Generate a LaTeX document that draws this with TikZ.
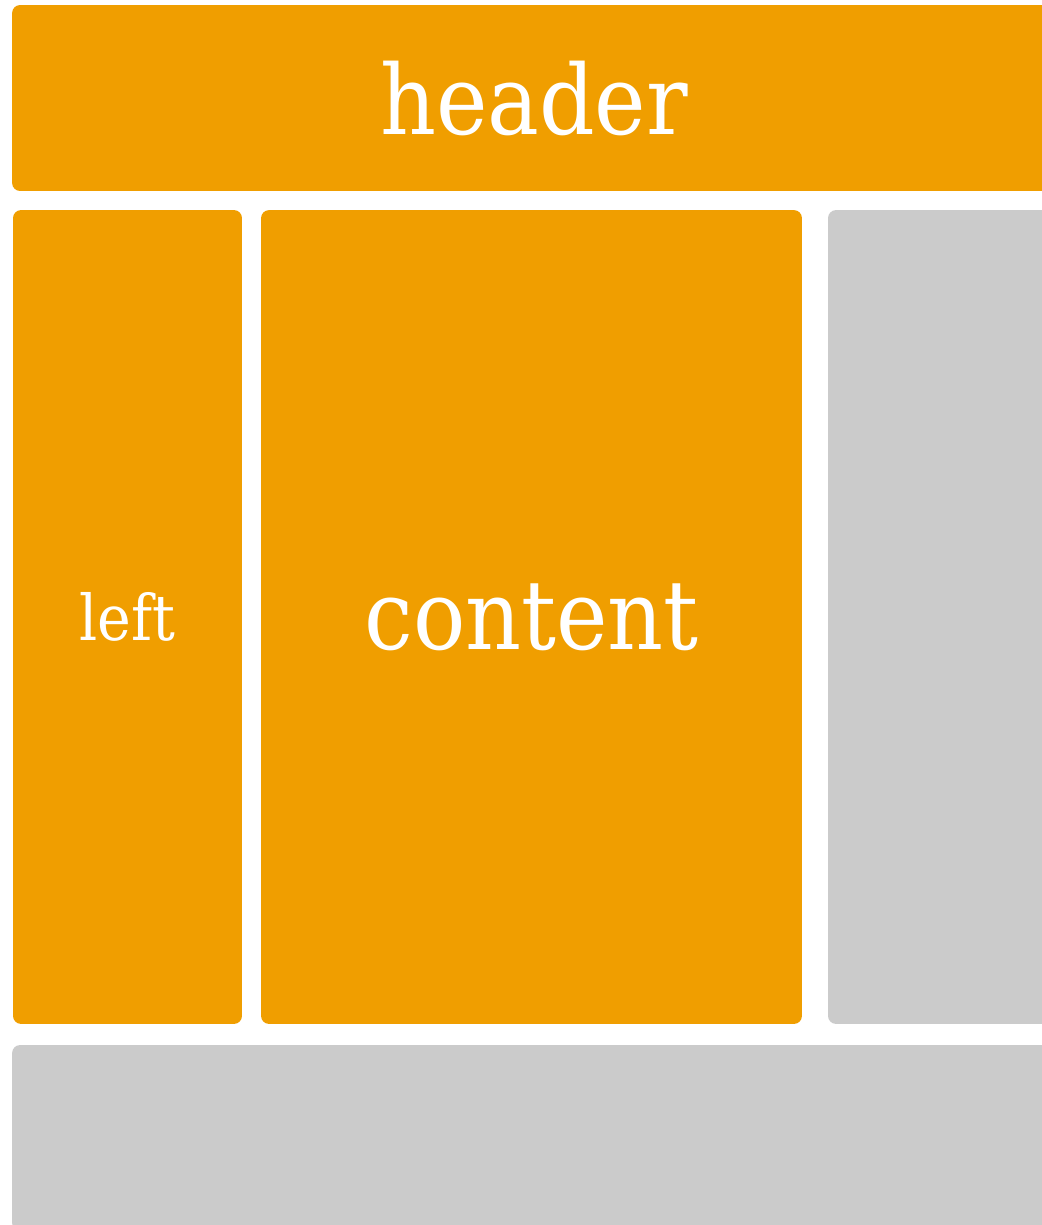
\documentclass[tikz,border=0pt]{standalone}
\usepackage{fontspec}
\setmainfont{DejaVu Serif Condensed}
\usetikzlibrary{positioning}
\definecolor{lyorange}{HTML}{F09E00}
\definecolor{lygray}{HTML}{CBCBCB}
\tikzset{
  lybox/.style={
    rounded corners=0.16cm, inner sep=0pt, text=white, draw=none},
  lyfilled/.style={lybox, fill=lyorange},
  lyempty/.style={lybox, fill=lygray},
  lybig/.style={font=\fontsize{55}{60}\selectfont},
  lysmall/.style={font=\fontsize{36}{40}\selectfont},
}
\begin{document}
\begin{tikzpicture}[x=0.02cm, y=-0.02cm]

% Page frame.
\useasboundingbox (0, 0) rectangle (1042, 1225);
\clip (0, 0) rectangle (1042, 1225);

% Header.
\node[lyfilled, lybig, minimum width=20.88cm, minimum height=3.72cm]
  (header) at (534, 98) {header};

% Middle row.
\node[lyfilled, lysmall, minimum width=4.58cm, minimum height=16.28cm]
  (left) at (127.5, 617) {left};
\node[lyfilled, lybig, minimum width=10.82cm, minimum height=16.28cm]
  (content) at (531.5, 617) {content};
\node[lyempty, minimum width=4.58cm, minimum height=16.28cm]
  (right) at (942.5, 617) {};

% Footer.
\node[lyempty, minimum width=20.88cm, minimum height=3.72cm]
  (footer) at (534, 1138) {};

\end{tikzpicture}
\end{document}
